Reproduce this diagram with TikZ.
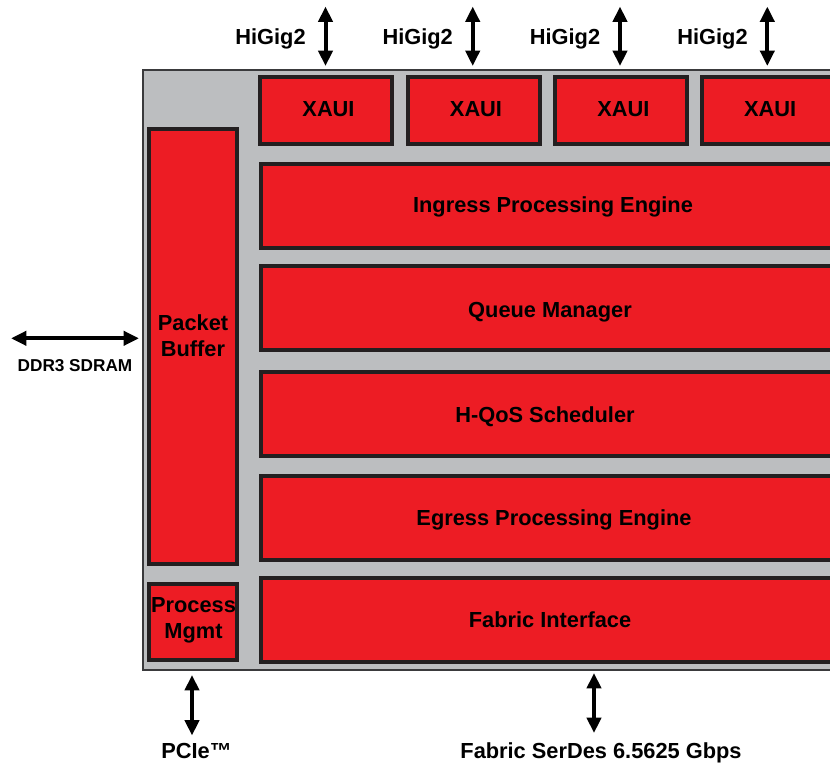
\documentclass[tikz,border=0pt]{standalone}
\usepackage{fontspec}
\setmainfont{Liberation Sans}
\usetikzlibrary{arrows.meta}
\definecolor{chipred}{HTML}{ED1C24}
\definecolor{edge}{HTML}{231F20}
\definecolor{chipgray}{HTML}{BCBEC0}
\definecolor{chipedge}{HTML}{3A3A3C}
\begin{document}
\begin{tikzpicture}[x=0.75pt,y=-0.75pt,
  blk/.style={draw=edge, line width=3pt, fill=chipred, inner sep=0pt},
  xauibox/.style={blk, minimum width=99pt, minimum height=50.25pt},
  rowbox/.style={blk, minimum width=438pt, minimum height=63pt},
  txt/.style={font=\fontsize{16.35}{19.5}\selectfont\bfseries, inner sep=0pt, text=black},
  small/.style={font=\fontsize{12.9}{15}\selectfont\bfseries, inner sep=0pt, text=black},
  dbl/.style={line width=3pt, draw=black, {Triangle[width=10.5pt,length=11.5pt]}-{Triangle[width=10.5pt,length=11.5pt]}}]
\clip (0,0) rectangle (830,765);
% chip outline
\node[draw=chipedge, line width=1.5pt, fill=chipgray, minimum width=544.5pt, minimum height=450pt, inner sep=0pt] (chip) at (506,370) {};
% left column
\node[blk, minimum width=66pt, minimum height=326.25pt] (pbuf) at (193,346.5) {};
\node[blk, minimum width=66pt, minimum height=57pt] (pmgmt) at (193,622) {};
\node[txt, align=center] (pbufl) at (193,335.8) {Packet\\Buffer};
\node[txt, align=center] (pmgmtl) at (193.5,620) {Process\\Mgmt};
% XAUI boxes
\node[xauibox] (x1) at (326,110.5) {};
\node[xauibox] (x2) at (474,110.5) {};
\node[xauibox] (x3) at (621,110.5) {};
\node[xauibox] (x4) at (768,110.5) {};
\node[txt, anchor=base] (x1l) at (328.5,116) {XAUI};
\node[txt, anchor=base] (x2l) at (476,116) {XAUI};
\node[txt, anchor=base] (x3l) at (623.3,116) {XAUI};
\node[txt, anchor=base] (x4l) at (770.2,116) {XAUI};
% rows
\node[rowbox] (ing) at (553,206) {};
\node[rowbox] (qm) at (553,308) {};
\node[rowbox] (hqos) at (553,413.5) {};
\node[rowbox] (egr) at (553,517.5) {};
\node[rowbox] (fab) at (553,619.5) {};
\node[txt, anchor=base] (ingl) at (553,212) {Ingress Processing Engine};
\node[txt, anchor=base] (qml) at (550,317) {Queue Manager};
\node[txt, anchor=base] (hqosl) at (545,422) {H-QoS Scheduler};
\node[txt, anchor=base] (egrl) at (554,525) {Egress Processing Engine};
\node[txt, anchor=base] (fabl) at (550,627) {Fabric Interface};
% HiGig2 connectors
\coordinate (h1) at (325.5,6.5);
\coordinate (h2) at (472.7,6.5);
\coordinate (h3) at (620,6.5);
\coordinate (h4) at (767.3,6.5);
\foreach \h in {h1,h2,h3,h4}{
  \draw[dbl, shorten >=2.25pt] (\h) -- (\h |- chip.north);
}
\node[txt, anchor=base] (hl1) at (270.5,44.3) {HiGig2};
\node[txt, anchor=base] (hl2) at (417.7,44.3) {HiGig2};
\node[txt, anchor=base] (hl3) at (565,44.3) {HiGig2};
\node[txt, anchor=base] (hl4) at (712.5,44.3) {HiGig2};
% DDR3
\coordinate (ddr) at (11,338.3);
\draw[dbl, shorten >=2.25pt] (ddr) -- (ddr -| chip.west);
\node[small, anchor=base] (ddrl) at (75,371.7) {DDR3 SDRAM};
% PCIe
\coordinate (pcie) at (192,735.5);
\draw[dbl, shorten >=3pt] (pcie) -- (pcie |- chip.south);
\node[txt, anchor=base] (pciel) at (196.5,758) {PCIe™};
% Fabric SerDes
\coordinate (fsd) at (594,733);
\draw[dbl, shorten >=1.5pt] (fsd) -- (fsd |- chip.south);
\node[txt, anchor=base] (fsdl) at (601,758) {Fabric SerDes 6.5625 Gbps};
\end{tikzpicture}
\end{document}
